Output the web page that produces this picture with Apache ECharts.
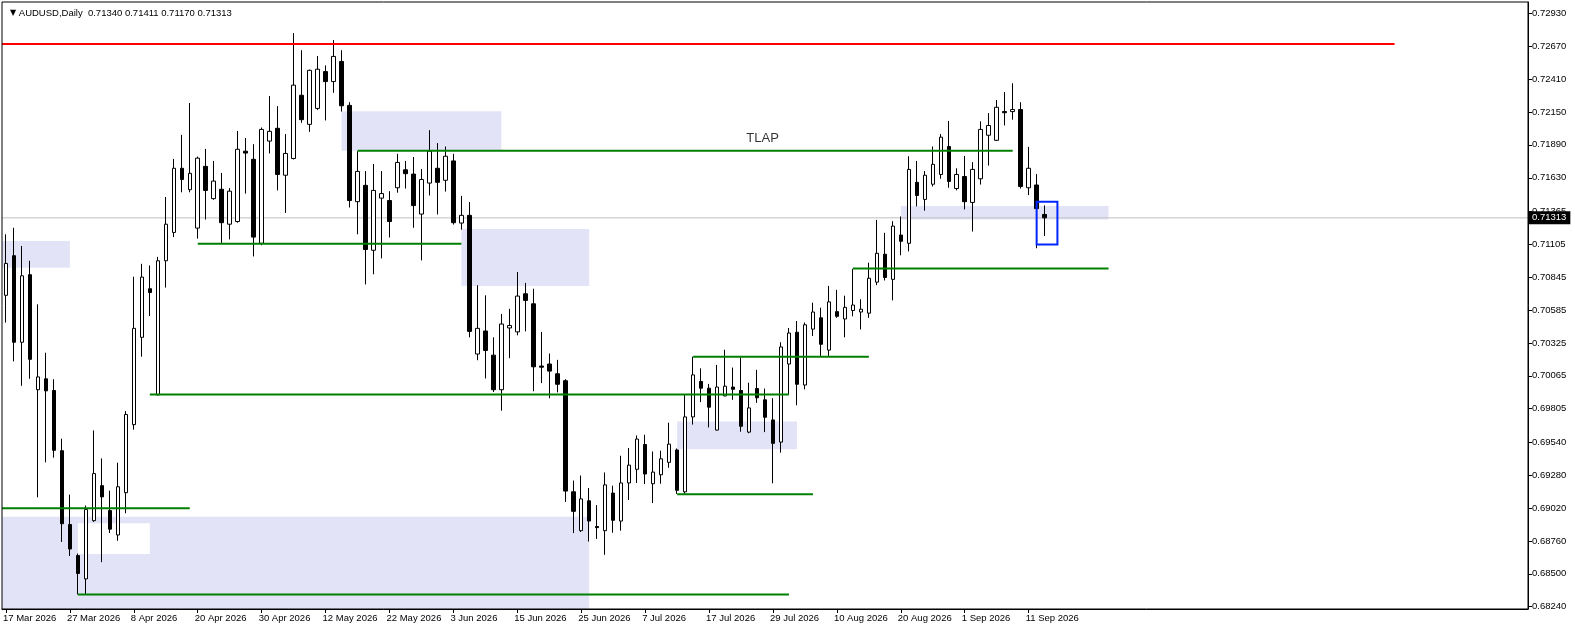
<!DOCTYPE html>
<html><head><meta charset="utf-8">
<script src="https://cdn.jsdelivr.net/npm/echarts@6/dist/echarts.min.js"></script>
<style>html,body{margin:0;padding:0;background:#fff}#c{width:1575px;height:630px}</style>
</head><body><div id="c"></div>
<script>
const symbolName = 'AUDUSD,Daily';
const firstDate = '2026-03-17';
const slotCount = 191;            // bars + empty future slots on the time axis
const opens = [0.70701,0.71014,0.70330,0.70864,0.69955,0.70041,0.69949,0.69473,0.68890,0.68644,0.68460,0.68920,0.69197,0.69000,0.68807,0.69141,0.69679,0.70369,0.70753,0.69915,0.70974,0.71198,0.71705,0.71536,0.71232,0.71720,0.71465,0.71539,0.71263,0.71284,0.71840,0.71776,0.71112,0.71920,0.72021,0.71650,0.71782,0.72282,0.72052,0.72178,0.72469,0.72390,0.72549,0.72202,0.71441,0.71570,0.71057,0.71469,0.71450,0.71551,0.71693,0.71659,0.71343,0.71588,0.71705,0.71610,0.71763,0.71272,0.71333,0.70237,0.70419,0.70228,0.69955,0.70443,0.70412,0.70713,0.70634,0.70142,0.70158,0.70081,0.70026,0.69148,0.68841,0.69077,0.68874,0.68841,0.69138,0.68917,0.69218,0.69326,0.69522,0.69212,0.69283,0.69381,0.69479,0.69148,0.69740,0.70020,0.69967,0.69636,0.69906,0.69976,0.69949,0.69620,0.69964,0.69875,0.69716,0.69541,0.70158,0.70409,0.69992,0.70434,0.70523,0.70268,0.70572,0.70514,0.70581,0.70569,0.70560,0.70805,0.71026,0.70827,0.71177,0.71112,0.71594,0.71459,0.71579,0.71656,0.71877,0.71545,0.71640,0.71435,0.71622,0.71966,0.71926,0.72153,0.72153,0.72169,0.71551,0.71573,0.71340];
const highs = [0.71183,0.71235,0.71091,0.70974,0.70630,0.70247,0.70038,0.69568,0.69126,0.68660,0.69040,0.69633,0.69412,0.69157,0.69378,0.69786,0.70848,0.70950,0.70937,0.71005,0.71478,0.71779,0.71969,0.72221,0.71797,0.71858,0.71763,0.71668,0.71548,0.72000,0.71944,0.71895,0.72027,0.72276,0.72196,0.71975,0.72773,0.72638,0.72485,0.72592,0.72518,0.72718,0.72638,0.72227,0.71840,0.71683,0.71739,0.71683,0.71524,0.71819,0.71763,0.71794,0.71699,0.72006,0.71904,0.71877,0.71819,0.71487,0.71438,0.70781,0.70701,0.70369,0.70554,0.70594,0.70885,0.70799,0.70753,0.70412,0.70241,0.70191,0.70038,0.69237,0.69277,0.69178,0.69043,0.69301,0.69197,0.69433,0.69494,0.69593,0.69599,0.69467,0.69473,0.69694,0.69491,0.69918,0.70216,0.70124,0.70001,0.70151,0.70271,0.70130,0.70210,0.70010,0.70112,0.69964,0.69888,0.70330,0.70443,0.70498,0.70486,0.70643,0.70603,0.70775,0.70744,0.70698,0.70910,0.70670,0.70959,0.71297,0.71195,0.71287,0.71324,0.71800,0.71763,0.71683,0.71877,0.71975,0.72079,0.71705,0.71803,0.71754,0.72076,0.72141,0.72245,0.72307,0.72377,0.72227,0.71874,0.71659,0.71411];
const lows = [0.70486,0.70179,0.69986,0.70041,0.69105,0.69381,0.69418,0.68752,0.68641,0.68337,0.68337,0.68911,0.68592,0.68822,0.68761,0.68979,0.69639,0.70216,0.70538,0.69909,0.70762,0.71161,0.71515,0.71515,0.71149,0.71300,0.71456,0.71106,0.71143,0.71275,0.71505,0.71008,0.71097,0.71822,0.71530,0.71352,0.71775,0.72064,0.71993,0.72165,0.72083,0.72301,0.72153,0.71395,0.71183,0.70787,0.70867,0.70993,0.71158,0.71512,0.71545,0.71235,0.70977,0.71490,0.71340,0.71521,0.71260,0.71220,0.70369,0.70188,0.70044,0.69937,0.69789,0.70204,0.70385,0.70416,0.69943,0.70007,0.69888,0.69934,0.69068,0.68822,0.68831,0.68755,0.68776,0.68650,0.68825,0.68841,0.69083,0.69218,0.69209,0.69059,0.69212,0.69338,0.69132,0.69132,0.69679,0.69857,0.69657,0.69633,0.69903,0.69875,0.69623,0.69611,0.69851,0.69620,0.69215,0.69458,0.69918,0.69832,0.69958,0.70379,0.70219,0.70219,0.70523,0.70369,0.70535,0.70431,0.70523,0.70781,0.70818,0.70661,0.71017,0.71048,0.71404,0.71370,0.71561,0.71622,0.71551,0.71530,0.71380,0.71205,0.71576,0.71726,0.71920,0.72043,0.72089,0.71545,0.71493,0.71073,0.71170];
const closes = [0.70953,0.70330,0.70855,0.70195,0.70056,0.69946,0.69476,0.68896,0.68696,0.68503,0.69009,0.69292,0.69108,0.68853,0.69188,0.69759,0.70440,0.70845,0.70723,0.70974,0.71263,0.71705,0.71616,0.71665,0.71785,0.71530,0.71604,0.71275,0.71524,0.71855,0.71825,0.71161,0.72012,0.71997,0.71656,0.71822,0.72362,0.72089,0.72479,0.72488,0.72390,0.72589,0.72199,0.71450,0.71680,0.71063,0.71530,0.71505,0.71284,0.71751,0.71662,0.71410,0.71616,0.71840,0.71594,0.71800,0.71275,0.71333,0.70416,0.70440,0.70265,0.69955,0.70474,0.70462,0.70695,0.70661,0.70136,0.70133,0.70102,0.69998,0.69154,0.68994,0.69092,0.68917,0.68865,0.69203,0.68923,0.69218,0.69359,0.69565,0.69289,0.69304,0.69409,0.69525,0.69160,0.69740,0.70072,0.69967,0.69817,0.69976,0.69983,0.69958,0.69666,0.69811,0.69891,0.69737,0.69531,0.70293,0.70403,0.69998,0.70468,0.70569,0.70314,0.70649,0.70535,0.70606,0.70624,0.70591,0.70836,0.71033,0.70842,0.71248,0.71128,0.71696,0.71490,0.71650,0.71736,0.71951,0.71601,0.71656,0.71441,0.71696,0.72012,0.72043,0.72187,0.72144,0.72169,0.71561,0.71705,0.71386,0.71313];
const yTickValues = [0.72930,0.72670,0.72410,0.72150,0.71890,0.71630,0.71365,0.71105,0.70845,0.70585,0.70325,0.70065,0.69805,0.69540,0.69280,0.69020,0.68760,0.68500,0.68240];
const yMin = 0.68222, yMax = 0.73019;
const bidPrice = 0.71313;
// horizontal levels: [fromBar, toBar, price]
const redLevels = [[-0.5, 173.8, 0.72687]];
const greenLevels = [[-0.5,23,0.69019],[9,98,0.68337],[18,98,0.69918],[24,57,0.71109],[44,126,0.71843],[86,108,0.70216],[84,101,0.69129],[106,138,0.70913]];
// zones: [fromBar, toBar, lowPrice, highPrice]
const zones = [[-0.5,8,0.70919,0.71131],[-0.5,73,0.68222,0.68951],[42,62,0.71843,0.72156],[57,73,0.70775,0.71226],[84,99,0.69485,0.69703],[112,138,0.71300,0.71407]];
const whiteZones = [[9,18,0.68656,0.68899]];
const blueBoxes = [[129,131.6,0.71103,0.71441]];
const textNotes = [[94.7, 0.71940, 'TLAP']];

const MONTHS = ['Jan','Feb','Mar','Apr','May','Jun','Jul','Aug','Sep','Oct','Nov','Dec'];
const categories = [];
{ const d = new Date(firstDate + 'T00:00:00Z');
  while (categories.length < slotCount) {
    const wd = d.getUTCDay();
    if (wd !== 0 && wd !== 6) categories.push(d.getUTCDate() + ' ' + MONTHS[d.getUTCMonth()] + ' ' + d.getUTCFullYear());
    d.setUTCDate(d.getUTCDate() + 1);
  } }
const lastBar = opens.length - 1;
const FONT = 'Liberation Sans';

const candleData = opens.map((o, i) => [o, closes[i], lows[i], highs[i]]);

const rectSeries = (name, data, style, z) => ({
  name, type: 'custom', xAxisIndex: 1, yAxisIndex: 0, z, silent: true, clip: true,
  encode: { x: [0, 1], y: [2, 3] },
  data,
  renderItem: (params, api) => {
    const p1 = api.coord([api.value(0), api.value(3)]);
    const p2 = api.coord([api.value(1), api.value(2)]);
    return { type: 'rect', shape: { x: p1[0], y: p1[1], width: p2[0] - p1[0], height: p2[1] - p1[1] }, style };
  }
});
const levelSeries = (arr, color, width, z) => arr.map(l => ({
  type: 'line', xAxisIndex: 1, yAxisIndex: 0, z, silent: true, symbol: 'none',
  data: [[l[0], l[2]], [l[1], l[2]]],
  lineStyle: { color, width }
}));

const chart = echarts.init(document.getElementById('c'), null, { renderer: 'canvas' });
chart.setOption({
  animation: false,
  backgroundColor: '#ffffff',
  title: {
    left: 5, top: 3,
    text: '{t|▼} ' + symbolName + '  ' + [opens[lastBar], highs[lastBar], lows[lastBar], closes[lastBar]].map(v => v.toFixed(5)).join(' '),
    textStyle: { fontFamily: FONT, fontSize: 9.5, fontWeight: 'normal', color: '#000',
      rich: { t: { fontSize: 8, color: '#000', fontFamily: 'DejaVu Sans' } } }
  },
  grid: { left: 0, top: 2, width: 1528, height: 607, z: 20, show: true, borderColor: '#000', borderWidth: 1, backgroundColor: 'transparent' },
  xAxis: [
    { type: 'category', data: categories, boundaryGap: true,
      axisLine: { show: true, onZero: false, lineStyle: { color: '#000', width: 1 } },
      axisTick: { show: true, alignWithLabel: true, length: 4, interval: (i) => i % 8 === 0 && i <= lastBar, lineStyle: { color: '#000' } },
      axisLabel: { interval: (i) => i % 8 === 0 && i <= lastBar, align: 'left', margin: 4, fontFamily: FONT, fontSize: 9.5, color: '#000', padding: [0,0,0,-3] },
      splitLine: { show: false } },
    { type: 'value', min: -0.5, max: slotCount - 0.5, show: false, axisLine: { onZero: false } }
  ],
  yAxis: [{
    type: 'value', position: 'right', min: yMin, max: yMax, scale: true,
    splitLine: { show: false },
    axisLine: { show: true, onZero: false, lineStyle: { color: '#000' } },
    axisTick: { show: true, length: 4, customValues: yTickValues, lineStyle: { color: '#000' } },
    axisLabel: { customValues: yTickValues, formatter: v => v.toFixed(5), fontFamily: FONT, fontSize: 9.5, color: '#000', margin: 4 }
  }],
  series: [
    rectSeries('zones', zones, { fill: '#e3e3f8' }, 1),
    rectSeries('white', whiteZones, { fill: '#ffffff' }, 2),
    { type: 'line', xAxisIndex: 1, yAxisIndex: 0, z: 3, symbol: 'none', silent: true,
      data: [[-0.5, bidPrice], [slotCount - 0.5, bidPrice]],
      lineStyle: { color: '#c0c0c0', width: 1 },
      endLabel: { show: true, distance: 0, formatter: () => bidPrice.toFixed(5), backgroundColor: '#000', color: '#fff', fontFamily: FONT, fontSize: 9.5, padding: [2, 4, 1, 4] } },
    { type: 'candlestick', xAxisIndex: 0, yAxisIndex: 0, z: 5, barWidth: 4, data: candleData,
      itemStyle: { color: '#ffffff', color0: '#000000', borderColor: '#000000', borderColor0: '#000000', borderWidth: 1 } },
    ...levelSeries(redLevels, '#ff0000', 2, 6),
    ...levelSeries(greenLevels, '#008000', 2, 6),
    rectSeries('box', blueBoxes, { fill: 'none', stroke: '#0026ff', lineWidth: 2 }, 7),
    { type: 'scatter', xAxisIndex: 1, yAxisIndex: 0, z: 8, symbolSize: 0, silent: true,
      data: textNotes.map(t => ({ value: [t[0], t[1]], name: t[2] })),
      label: { show: true, position: 'inside', formatter: p => p.name, fontFamily: FONT, fontSize: 13, color: '#000' } }
  ]
});
</script></body></html>
